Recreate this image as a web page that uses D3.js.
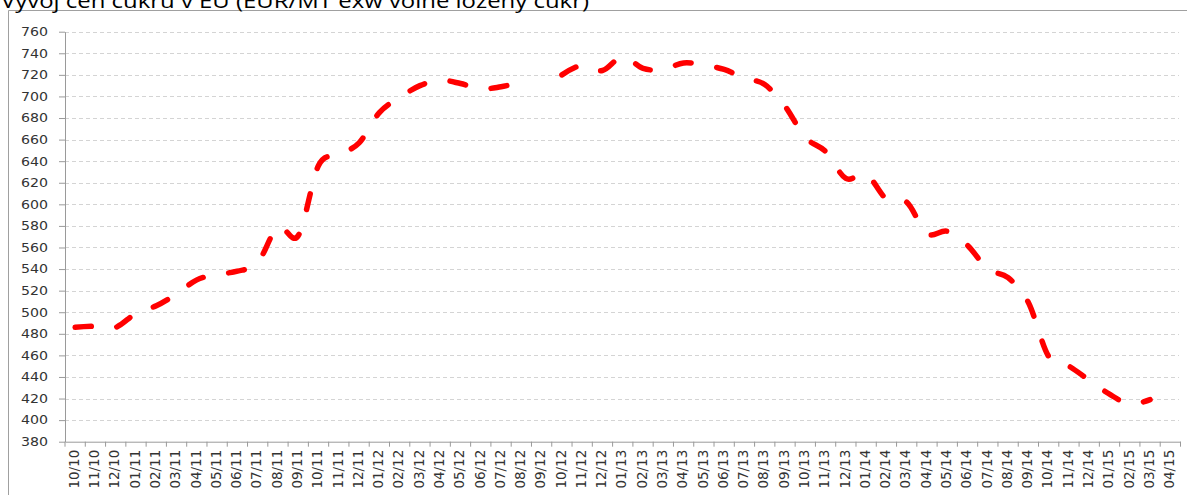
<!DOCTYPE html>
<html>
<head>
<meta charset="utf-8">
<script src="https://cdn.jsdelivr.net/npm/d3@7"></script>
<style>
  body { margin: 0; background: #fff; }
  svg { display: block; }
</style>
</head>
<body>
<div id="chart"></div>
<script>
// monthly categories
const months = ["10/10","11/10","12/10","01/11","02/11","03/11","04/11","05/11","06/11","07/11","08/11","09/11",
  "10/11","11/11","12/11","01/12","02/12","03/12","04/12","05/12","06/12","07/12","08/12","09/12",
  "10/12","11/12","12/12","01/13","02/13","03/13","04/13","05/13","06/13","07/13","08/13","09/13",
  "10/13","11/13","12/13","01/14","02/14","03/14","04/14","05/14","06/14","07/14","08/14","09/14",
  "10/14","11/14","12/14","01/15","02/15","03/15","04/15"];

// EUR/MT, null = no value
const prices = [486, 487, 486, 499, 506, 517, 530, 535, 538, 546, 579, 571,
  636, 646, 657, 685, 699, 710, 715, 712, 707, 709, 713, null,
  720, 729, 724, 737, 726, 725, 731, 729, 725, 717, 711, 691,
  662, 649, 624, 628, 605, 602, 573, 575, 562, 540, 532, 509,
  459, 450, 437, 424, 415, 419, null];

const yTicks = [380,400,420,440,460,480,500,520,540,560,580,600,620,640,660,680,700,720,740,760];

const titleText = "Vývoj cen cukru v EU (EUR/MT exw volně ložený cukr)";

const W = 1187, H = 495;
const plotLeft = 65, plotRight = 1180.5, plotTop = 31.7, plotBottom = 441.7;

const svg = d3.select("#chart")
  .append("svg")
  .attr("width", W)
  .attr("height", H);

// frame (cut at right / bottom)
svg.append("path")
  .attr("d", `M8.5,${H} V10.5 H${W}`)
  .attr("fill", "none")
  .attr("stroke", "#a0a0a0")
  .attr("stroke-width", 1);

// title, mostly cut off at top
svg.append("text")
  .attr("x", 1)
  .attr("y", 7.5)
  .attr("textLength", 588)
  .attr("lengthAdjust", "spacingAndGlyphs")
  .style("font-family", "'Open Sans', sans-serif")
  .style("font-size", "20px")
  .style("fill", "#000")
  .text(titleText);

const x = d3.scaleBand()
  .domain(months)
  .range([plotLeft, plotRight])
  .padding(0);

const y = d3.scaleLinear()
  .domain([380, 760])
  .range([plotBottom, plotTop]);

const cx = d => x(d) + x.bandwidth() / 2;

// grid lines
svg.append("g")
  .selectAll("line")
  .data(yTicks.filter(t => t > 380))
  .enter()
  .append("line")
  .attr("x1", plotLeft)
  .attr("x2", plotRight - 1.5)
  .attr("y1", d => Math.round(y(d)) + 0.5)
  .attr("y2", d => Math.round(y(d)) + 0.5)
  .attr("stroke", "#d4d4d4")
  .attr("stroke-width", 1)
  .attr("stroke-dasharray", "4,3");

// y axis
const yAxis = svg.append("g")
  .attr("transform", `translate(${plotLeft},0)`)
  .call(d3.axisLeft(y).tickValues(yTicks).tickSize(6).tickSizeOuter(0).tickPadding(11));

yAxis.selectAll("text")
  .attr("textLength", 27)
  .attr("lengthAdjust", "spacingAndGlyphs")
  .style("font-family", "'DejaVu Sans', sans-serif")
  .style("font-size", "12px")
  .style("fill", "#333");

yAxis.selectAll("path, line")
  .attr("stroke", "#9a9a9a");

// x axis
const xAxis = svg.append("g")
  .attr("transform", `translate(0,${plotBottom})`)
  .call(d3.axisBottom(x).tickSize(0).tickSizeOuter(0).tickPadding(0));

xAxis.select(".domain")
  .attr("stroke", "#9a9a9a");

xAxis.selectAll(".tick text")
  .attr("transform", "translate(-1,8) rotate(-90)")
  .attr("x", 0)
  .attr("y", 0)
  .attr("dy", "0.35em")
  .attr("text-anchor", "end")
  .style("font-family", "'DejaVu Sans', sans-serif")
  .style("font-size", "13.5px")
  .style("fill", "#333");

// category boundary ticks
xAxis.append("g")
  .selectAll("line")
  .data(months.map(d => x(d)).concat([plotRight]))
  .enter()
  .append("line")
  .attr("x1", d => d)
  .attr("x2", d => d)
  .attr("y1", 0)
  .attr("y2", 5)
  .attr("stroke", "#9a9a9a");

// split series into runs around missing values
const points = months.map((m, i) => ({ m: m, v: prices[i] }));
const runs = [];
let cur = [];
points.forEach(p => {
  if (p.v == null) {
    if (cur.length) runs.push(cur);
    cur = [];
  } else {
    cur.push(p);
  }
});
if (cur.length) runs.push(cur);

const line = d3.line()
  .x(d => cx(d.m))
  .y(d => y(d.v))
  .curve(d3.curveCardinal.tension(0));

svg.append("g")
  .selectAll("path")
  .data(runs)
  .enter()
  .append("path")
  .attr("d", line)
  .attr("fill", "none")
  .attr("stroke", "#ff0000")
  .attr("stroke-width", 5.5)
  .attr("stroke-linecap", "round")
  .attr("stroke-linejoin", "round")
  .attr("stroke-dasharray", "16,26");
</script>
</body>
</html>
